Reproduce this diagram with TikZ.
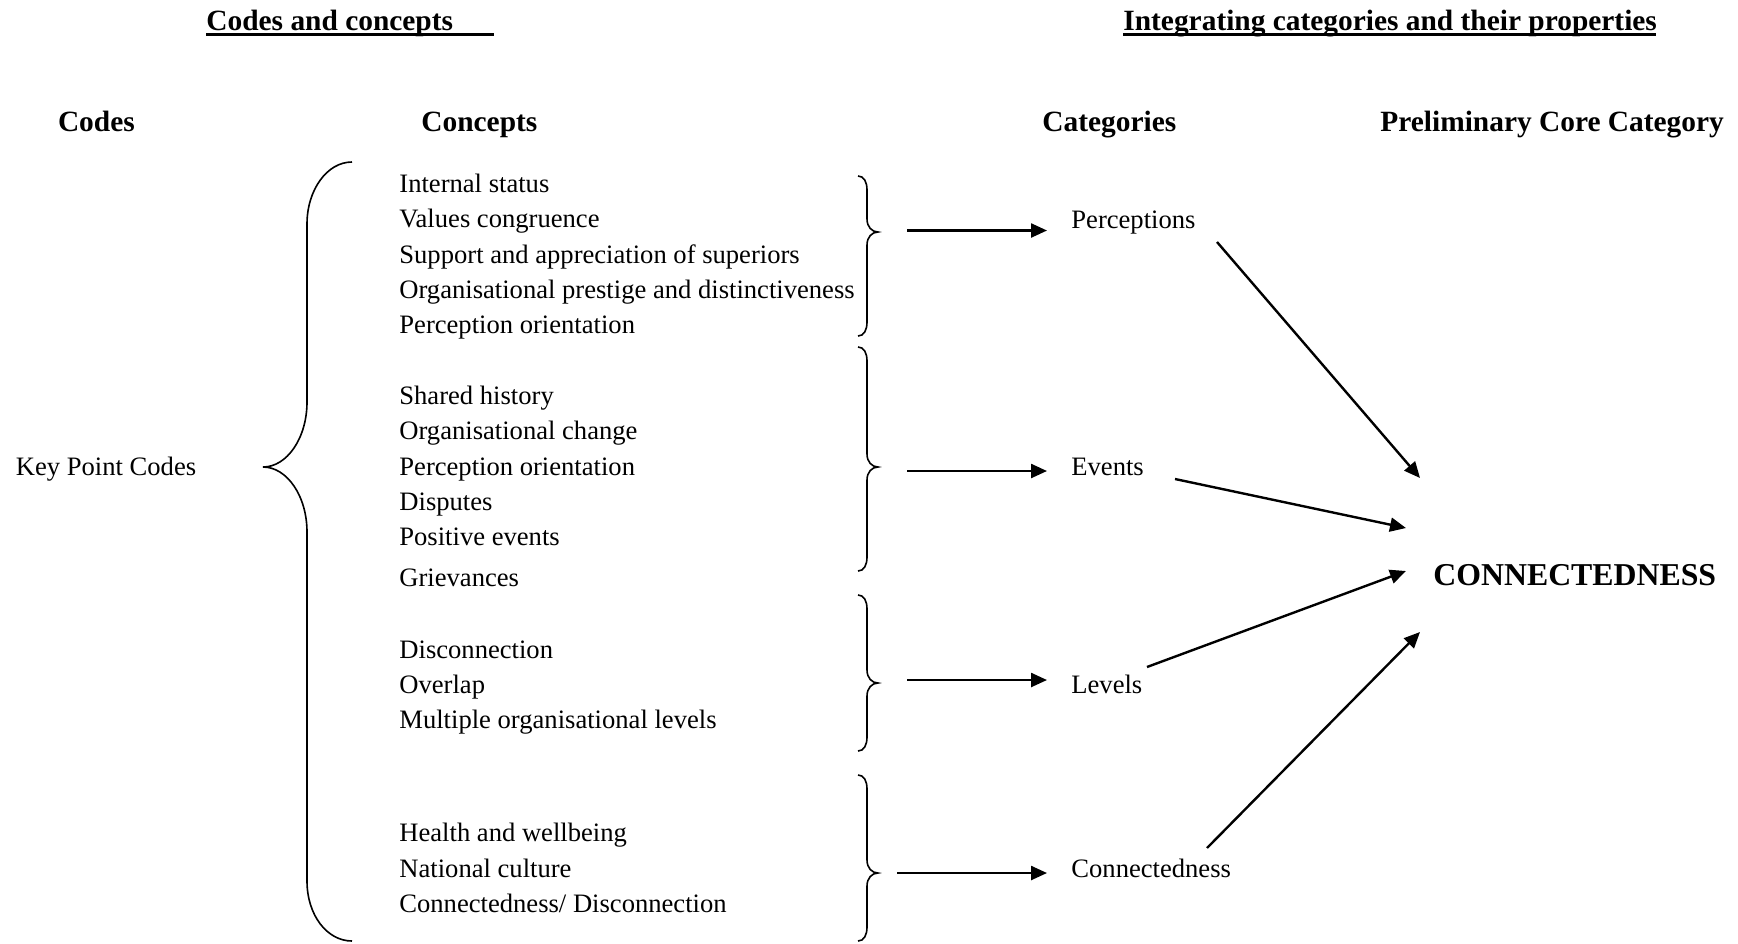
\documentclass[tikz,border=0pt]{standalone}
\usepackage{fontspec}
\setmainfont{Liberation Serif}
\usetikzlibrary{arrows.meta}

% right-hand curly brace: #1 top, #2 tip, #3 bottom (y values)
\newcommand\smallbrace[3]{%
  \draw[brace] (858,#1) .. controls (864,#1) and (867,#1+6) .. (867,#1+14)
    -- (867,#2-13) .. controls (867,#2-5) and (872,#2) .. (878,#2)
    .. controls (872,#2) and (867,#2+5) .. (867,#2+13)
    -- (867,#3-14) .. controls (867,#3-6) and (864,#3) .. (858,#3);}

\begin{document}
\begin{tikzpicture}[x=0.5pt,y=-0.5pt,
  body/.style={anchor=base west, inner sep=0pt, font=\fontsize{13.3}{16}\selectfont},
  head/.style={anchor=base west, inner sep=0pt, font=\fontsize{14.7}{17}\selectfont\bfseries},
  core/.style={anchor=base west, inner sep=0pt, font=\fontsize{15.9}{19}\selectfont\bfseries},
  brace/.style={line width=0.8pt},
  flow/.style={line width=1.2pt, -{Triangle[length=8pt,width=7pt]}},
  uline/.style={line width=1.4pt}
]
\useasboundingbox (0,0) rectangle (1738,943);

% section headings
\node[head] (hcodes) at (206,30) {Codes and concepts};
\draw[uline] (206,34.5) -- (494,34.5);
\node[head] (hint) at (1123,30) {Integrating categories and their properties};
\draw[uline] (1123,34.5) -- (1656,34.5);

% column headings
\node[head] (colcodes) at (57.6,131) {Codes};
\node[head] (colconc) at (421,131) {Concepts};
\node[head] (colcat) at (1042,131) {Categories};
\node[head] (colcore) at (1380,131) {Preliminary Core Category};

% codes
\node[body] (kpc) at (15.5,475) {Key Point Codes};

% concepts
\node[body] (c1) at (399,192) {Internal status};
\node[body] (c2) at (399,227.5) {Values congruence};
\node[body] (c3) at (399,263) {Support and appreciation of superiors};
\node[body] (c4) at (399,298) {Organisational prestige and distinctiveness};
\node[body] (c5) at (399,333) {Perception orientation};

\node[body] (c6) at (399,404) {Shared history};
\node[body] (c7) at (399,439.5) {Organisational change};
\node[body] (c8) at (399,475) {Perception orientation};
\node[body] (c9) at (399,510.5) {Disputes};
\node[body] (c10) at (399,545) {Positive events};
\node[body] (c11) at (399,586) {Grievances};

\node[body] (c12) at (399,658) {Disconnection};
\node[body] (c13) at (399,693) {Overlap};
\node[body] (c14) at (399,728.5) {Multiple organisational levels};

\node[body] (c15) at (399,841) {Health and wellbeing};
\node[body] (c16) at (399,877) {National culture};
\node[body] (c17) at (399,912) {Connectedness/ Disconnection};

% categories
\node[body] (perc) at (1071,228) {Perceptions};
\node[body] (evt) at (1071,475) {Events};
\node[body] (lev) at (1071,693) {Levels};
\node[body] (conn) at (1071,877) {Connectedness};

% core category
\node[core] (core) at (1433,585.5) {CONNECTEDNESS};

% large brace grouping all concepts
\draw[brace] (352,162) .. controls (327,162) and (307,190) .. (307,224)
  -- (307,402) .. controls (307,438) and (287,467) .. (263,467)
  .. controls (287,467) and (307,496) .. (307,532)
  -- (307,881) .. controls (307,915) and (327,941) .. (352,941);

% braces closing each concept group
\smallbrace{176}{232}{336}
\smallbrace{347}{467}{571}
\smallbrace{595}{683}{751}
\smallbrace{775}{873}{941}

% arrow end points
\coordinate (g1) at (907,230.5);
\coordinate (g1e) at (1047,230.5);
\coordinate (g2) at (907,471);
\coordinate (g2e) at (1047,471);
\coordinate (g3) at (907,680);
\coordinate (g3e) at (1047,680);
\coordinate (g4) at (897,873);
\coordinate (g4e) at (1047,873);

\coordinate (perc-out) at (1217,242);
\coordinate (evt-out) at (1175,479);
\coordinate (lev-out) at (1147,667);
\coordinate (conn-out) at (1207,848);
\coordinate (core-in1) at (1420,478);
\coordinate (core-in2) at (1406,528);
\coordinate (core-in3) at (1406,571);
\coordinate (core-in4) at (1420,632);

% concept groups to categories
\draw[flow] (g1) -- (g1e);
\draw[flow] (g2) -- (g2e);
\draw[flow] (g3) -- (g3e);
\draw[flow] (g4) -- (g4e);

% categories to core category
\draw[flow] (perc-out) -- (core-in1);
\draw[flow] (evt-out) -- (core-in2);
\draw[flow] (lev-out) -- (core-in3);
\draw[flow] (conn-out) -- (core-in4);
\end{tikzpicture}
\end{document}
